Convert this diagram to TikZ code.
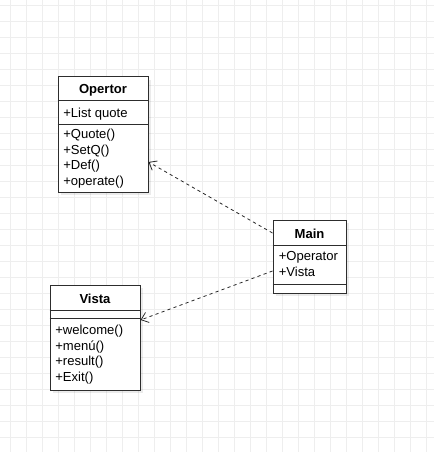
\documentclass[tikz,border=0pt]{standalone}
\usepackage{fontspec}
\setmainfont{Liberation Sans}
\usetikzlibrary{arrows.meta}
\usetikzlibrary{shadows}

\definecolor{gridgray}{RGB}{238,238,238}
\definecolor{boxline}{RGB}{45,45,45}

\tikzset{
  classbox/.style={draw=boxline,line width=0.75pt,fill=white,inner sep=0pt,
    drop shadow={shadow xshift=2.6pt,shadow yshift=-2.6pt,fill=black,opacity=0.08}},
  classname/.style={font=\bfseries\fontsize{9.8}{11}\selectfont,inner sep=0pt},
  member/.style={font=\fontsize{9.8}{11}\selectfont,anchor=west,inner sep=0pt},
  divider/.style={draw=boxline,line width=0.75pt},
  depends/.style={draw=black!85,line width=0.6pt,dash pattern=on 2.4pt off 2.4pt,
    -{Straight Barb[length=5pt,width=8pt,line width=0.6pt]}}
}

\begin{document}
\begin{tikzpicture}[x=0.75pt,y=-0.75pt]
  \useasboundingbox (0,0) rectangle (434,452);
  % background grid
  \foreach \gx in {10,26,...,426}
    \draw[gridgray,line width=0.75pt] (\gx,0) -- (\gx,452);
  \foreach \gy in {5.3,21.3,...,450}
    \draw[gridgray,line width=0.75pt] (0,\gy) -- (434,\gy);

  % Opertor
  \node[classbox,minimum width=67.5pt,minimum height=86.25pt] (opertor) at (103,134.5) {};
  \node[classname] (opertor-name) at (103,90) {Opertor};
  \draw[divider] (opertor.west |- 0,101) -- (opertor.east |- 0,101);
  \draw[divider] (opertor.west |- 0,125) -- (opertor.east |- 0,125);
  \node[member] (opertor-attr) at (63,114) {+List quote};
  \foreach \txt [count=\i from 0] in {+Quote(),+SetQ(),+Def(),+operate()}
    \node[member] (opertor-op\i) at (63,135.5+15.5*\i) {\txt};

  % Vista
  \node[classbox,minimum width=67.5pt,minimum height=78.75pt] (vista) at (95,337.5) {};
  \node[classname] (vista-name) at (95,299) {Vista};
  \draw[divider] (vista.west |- 0,310) -- (vista.east |- 0,310);
  \draw[divider] (vista.west |- 0,318) -- (vista.east |- 0,318);
  \foreach \txt [count=\i from 0] in {+welcome(),+men\'u(),+result(),+Exit()}
    \node[member] (vista-op\i) at (55,331.5+15.5*\i) {\txt};

  % Main
  \node[classbox,minimum width=54.75pt,minimum height=54.75pt] (main) at (309.5,256.5) {};
  \node[classname] (main-name) at (309.5,234) {Main};
  \draw[divider] (main.west |- 0,245) -- (main.east |- 0,245);
  \draw[divider] (main.west |- 0,284) -- (main.east |- 0,284);
  \foreach \txt [count=\i from 0] in {+Operator,+Vista}
    \node[member] (main-attr\i) at (278.5,257.5+14.5*\i) {\txt};

  % dependencies
  \draw[depends] (main.west |- 0,233) -- (opertor.east |- 0,162);
  \draw[depends] (main.west |- 0,271) -- (vista.east |- 0,320);
\end{tikzpicture}
\end{document}
